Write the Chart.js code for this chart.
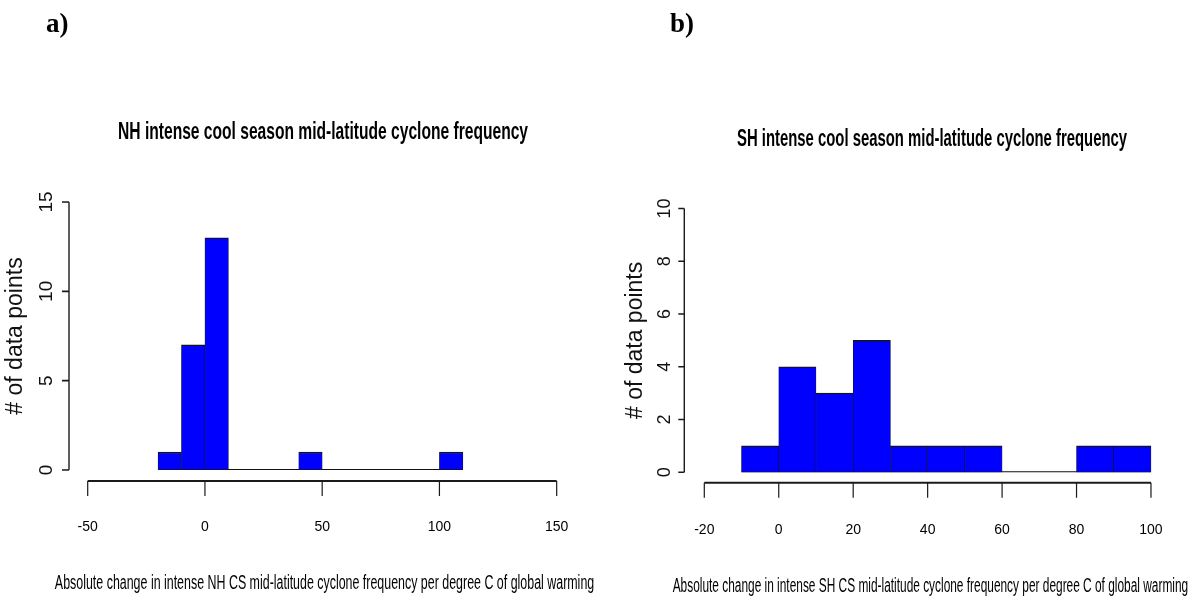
<!DOCTYPE html>
<html>
<head>
<meta charset="utf-8">
<script src="https://cdn.jsdelivr.net/npm/chart.js@4.4.1/dist/chart.umd.min.js"></script>
<style>
  html, body { margin: 0; padding: 0; background: #fff; }
  #wrap { position: relative; width: 1192px; height: 604px; overflow: hidden; background: #fff; }
  canvas { position: absolute; top: 0; }
  #cNH { left: 0; }
  #cSH { left: 600px; }
  .panel {
    position: absolute; top: 10px;
    font-family: 'Liberation Serif', 'Times New Roman', serif;
    font-weight: bold; font-size: 27px; line-height: 27px; color: #000;
  }
</style>
</head>
<body>
<div id="wrap">
  <canvas id="cNH" width="600" height="604"></canvas>
  <canvas id="cSH" width="592" height="604"></canvas>
  <div class="panel" style="left:46px">a)</div>
  <div class="panel" style="left:670px">b)</div>
</div>
<script>
// Northern Hemisphere: histogram break points (bins of width 10) and counts per bin
const nhBreaks = [-20, -10, 0, 10, 20, 30, 40, 50, 60, 70, 80, 90, 100, 110];
const nhCounts = [1, 7, 13, 0, 0, 0, 1, 0, 0, 0, 0, 0, 1];
const nhXTicks = [-50, 0, 50, 100, 150];
const nhYTicks = [0, 5, 10, 15];

// Southern Hemisphere
const shBreaks = [-10, 0, 10, 20, 30, 40, 50, 60, 70, 80, 90, 100];
const shCounts = [1, 4, 3, 5, 1, 1, 1, 0, 0, 1, 1];
const shXTicks = [-20, 0, 20, 40, 60, 80, 100];
const shYTicks = [0, 2, 4, 6, 8, 10];

const nhTitle = 'NH intense cool season mid-latitude cyclone frequency';
const shTitle = 'SH intense cool season mid-latitude cyclone frequency';
const nhXLabel = 'Absolute change in intense NH CS mid-latitude cyclone frequency per degree C of global warming';
const shXLabel = 'Absolute change in intense SH CS mid-latitude cyclone frequency per degree C of global warming';
const yLabel = '# of data points';

const SANS = "'Liberation Sans', Arial, Helvetica, sans-serif";

// Base-graphics style axes: detached lines that run from the first to the last tick
const rAxes = {
  id: 'rAxes',
  afterDraw(chart, args, o) {
    const { ctx, chartArea: a, scales: { x, y } } = chart;
    const xs = x.ticks.map(t => x.getPixelForValue(t.value));
    const ys = y.ticks.map(t => y.getPixelForValue(t.value));
    const xLineY = a.bottom + o.xGap;
    const yLineX = xs[0] - o.yGap;
    ctx.save();
    ctx.strokeStyle = o.color;
    ctx.lineCap = 'butt';
    // horizontal axis
    ctx.lineWidth = o.xLineWidth;
    ctx.beginPath();
    ctx.moveTo(xs[0], xLineY);
    ctx.lineTo(xs[xs.length - 1], xLineY);
    ctx.stroke();
    ctx.lineWidth = o.xTickWidth;
    ctx.beginPath();
    xs.forEach(px => { ctx.moveTo(px, xLineY); ctx.lineTo(px, xLineY + o.xTickLen); });
    ctx.stroke();
    // vertical axis
    ctx.lineWidth = o.yLineWidth;
    ctx.beginPath();
    ctx.moveTo(yLineX, ys[0]);
    ctx.lineTo(yLineX, ys[ys.length - 1]);
    ctx.stroke();
    ctx.lineWidth = o.yTickWidth;
    ctx.beginPath();
    ys.forEach(py => { ctx.moveTo(yLineX, py); ctx.lineTo(yLineX - o.yTickLen, py); });
    ctx.stroke();
    ctx.restore();
  }
};

// Main heading in a tall, condensed bold face (squeezed to a set width)
const condensedTitle = {
  id: 'condensedTitle',
  afterDraw(chart, args, o) {
    const { ctx, chartArea: a } = chart;
    ctx.save();
    ctx.font = 'bold ' + o.size + 'px ' + SANS;
    ctx.fillStyle = '#000';
    ctx.textAlign = 'center';
    ctx.textBaseline = 'alphabetic';
    ctx.fillText(o.text, (a.left + a.right) / 2 + o.dx, o.baseline, o.width);
    ctx.restore();
  }
};

function histData(breaks, counts) {
  return counts.map((c, i) => ({ x: (breaks[i] + breaks[i + 1]) / 2, y: c }));
}

function makeHistogram(canvasId, cfg) {
  return new Chart(document.getElementById(canvasId), {
    type: 'bar',
    data: {
      datasets: [
        {
          type: 'bar',
          data: histData(cfg.breaks, cfg.counts),
          backgroundColor: '#0000ff',
          borderColor: '#151515',
          borderWidth: { top: 1.4, bottom: 1, left: 0.6, right: 0.6 },
          borderSkipped: false,
          barPercentage: 1,
          categoryPercentage: 1,
          order: 1
        },
        {
          type: 'line',
          data: [
            { x: cfg.breaks[0], y: 0 },
            { x: cfg.breaks[cfg.breaks.length - 1], y: 0 }
          ],
          borderColor: '#111',
          borderWidth: 2,
          pointRadius: 0,
          fill: false,
          order: 2
        }
      ]
    },
    options: {
      responsive: false,
      animation: false,
      devicePixelRatio: 1,
      layout: { padding: { left: 0, top: cfg.padTop, bottom: 0, right: cfg.padRight } },
      plugins: {
        legend: { display: false },
        tooltip: { enabled: false },
        title: { display: false },
        condensedTitle: {
          text: cfg.title, size: cfg.titleSize, width: cfg.titleWidth,
          baseline: cfg.titleBaseline, dx: cfg.titleDx
        },
        rAxes: {
          color: '#1a1a1a',
          xGap: cfg.xGap, yGap: cfg.yGap,
          xLineWidth: 2, xTickWidth: 1.2, xTickLen: 15,
          yLineWidth: 1.4, yTickWidth: 1.6, yTickLen: cfg.yTickLen
        }
      },
      scales: {
        x: {
          type: 'linear',
          min: cfg.xMin, max: cfg.xMax,
          bounds: 'data',
          offset: false,
          afterBuildTicks: s => { s.ticks = cfg.xTicks.map(v => ({ value: v })); },
          afterFit: s => { s.height = cfg.xScaleHeight; },
          grid: { display: false, drawTicks: true, tickLength: cfg.xLabelGap, offset: false },
          border: { display: false },
          ticks: {
            autoSkip: false, padding: 0, maxRotation: 0, minRotation: 0,
            color: '#000', font: { family: SANS, size: 14 }
          },
          title: {
            display: true, text: cfg.xLabel, color: '#000',
            font: { family: SANS, size: 20 },
            padding: { top: 0, bottom: cfg.xTitlePadBottom }
          }
        },
        y: {
          type: 'linear',
          min: cfg.yTicks[0], max: cfg.yTicks[cfg.yTicks.length - 1],
          bounds: 'data',
          afterBuildTicks: s => { s.ticks = cfg.yTicks.map(v => ({ value: v })); },
          afterFit: s => { s.width = cfg.yScaleWidth; },
          grid: { display: false, drawTicks: false },
          border: { display: false },
          ticks: {
            autoSkip: false, minRotation: 90, maxRotation: 90, crossAlign: 'center',
            padding: cfg.yLabelPad, color: '#111',
            font: { family: SANS, size: cfg.yTickSize }
          },
          title: {
            display: true, text: yLabel, color: '#111',
            font: { family: SANS, size: 23 },
            padding: { top: cfg.yTitlePadTop, bottom: 0 }
          }
        }
      }
    },
    plugins: [rAxes, condensedTitle]
  });
}

makeHistogram('cNH', {
  breaks: nhBreaks, counts: nhCounts, xTicks: nhXTicks, yTicks: nhYTicks,
  title: nhTitle, xLabel: nhXLabel,
  xMin: -64, xMax: 166, padRight: 5.8, padTop: 202,
  titleSize: 24, titleWidth: 410, titleBaseline: 139, titleDx: -1.5,
  xScaleHeight: 134, xLabelGap: 48.6, xTitlePadBottom: 9,
  yScaleWidth: 54.87, yLabelPad: -2.7, yTickSize: 19, yTitlePadTop: 2.2,
  xGap: 11, yGap: 18.7, yTickLen: 7
});

makeHistogram('cSH', {
  breaks: shBreaks, counts: shCounts, xTicks: shXTicks, yTicks: shYTicks,
  title: shTitle, xLabel: shXLabel,
  xMin: -28.5, xMax: 110, padRight: 3.8, padTop: 208.5,
  titleSize: 23, titleWidth: 390, titleBaseline: 146, titleDx: 1.6,
  xScaleHeight: 131.7, xLabelGap: 49.3, xTitlePadBottom: 6,
  yScaleWidth: 72.66, yLabelPad: -2.34, yTickSize: 18, yTitlePadTop: 22.2,
  xGap: 10.4, yGap: 20, yTickLen: 6
});
</script>
</body>
</html>
